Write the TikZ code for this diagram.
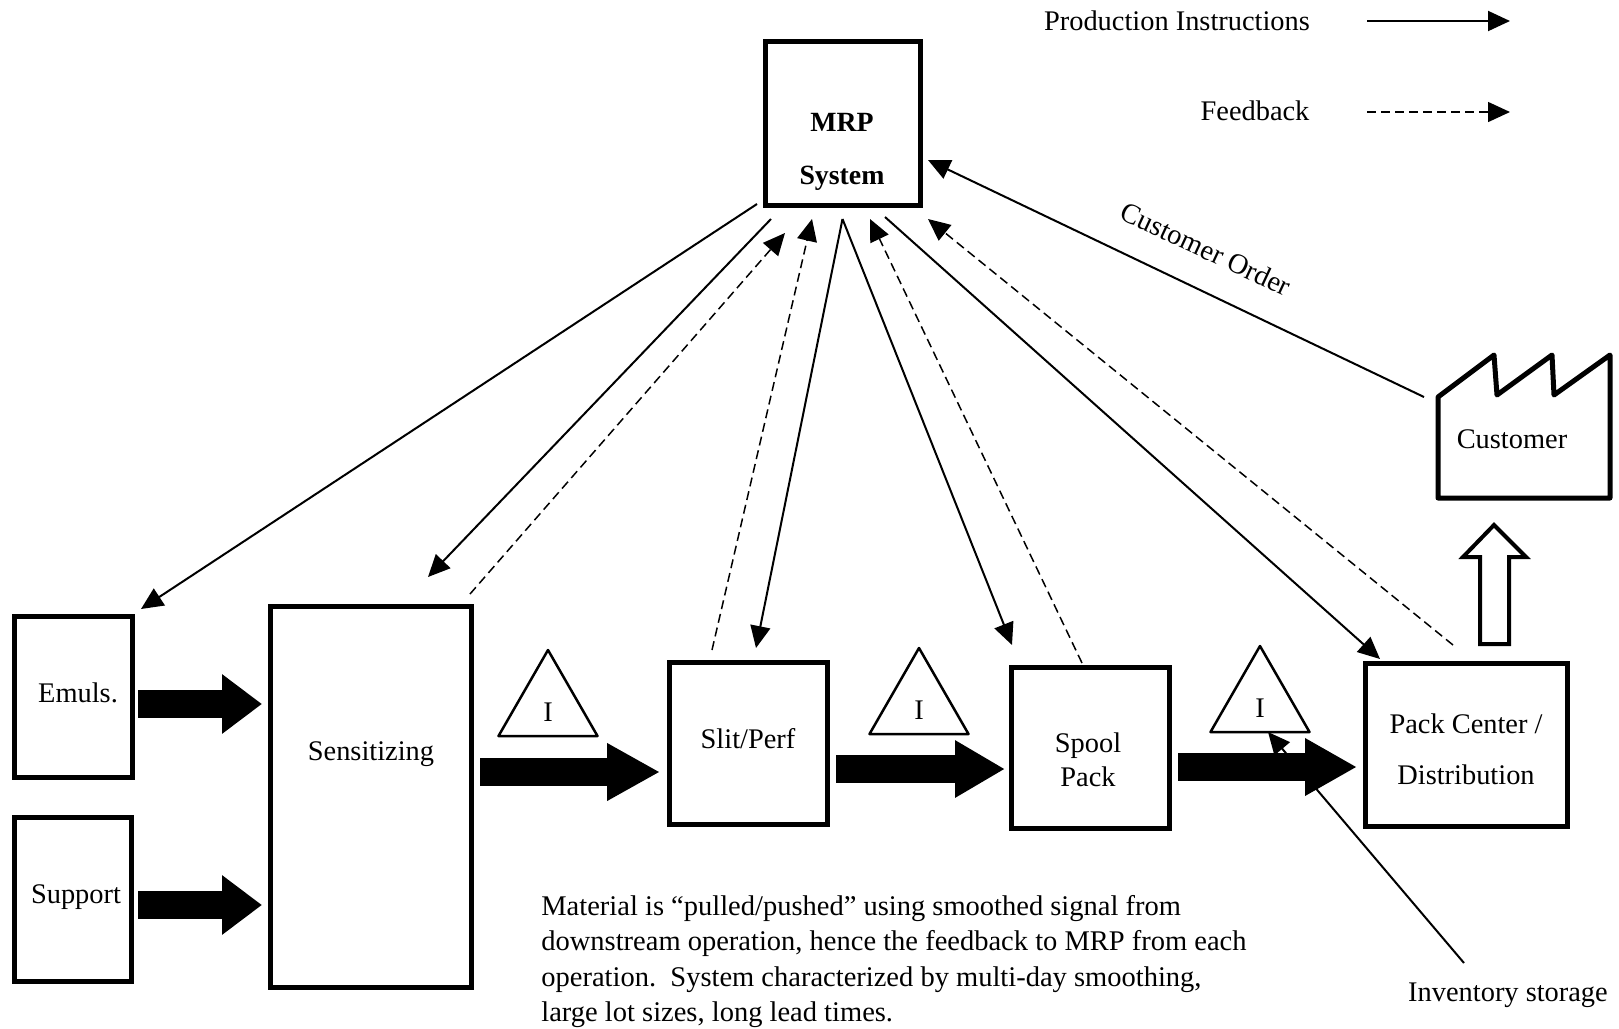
\documentclass[tikz,border=0pt]{standalone}
\usepackage{fontspec}
\setmainfont{Liberation Serif}
\usetikzlibrary{arrows.meta}
\tikzset{processbox/.style={draw,rectangle,line width=2.5pt,inner sep=0,outer sep=0},
    plainlabel/.style={font=\fontsize{14.2}{17}\selectfont,inner sep=0,align=center},
    boldlabel/.style={font=\fontsize{13.9}{17}\selectfont\bfseries,inner sep=0,align=center},
    orderarrow/.style={-{Triangle[length=11pt,width=10pt]},line width=1pt},
    feedbackarrow/.style={-{Triangle[length=11pt,width=10pt]},line width=0.75pt,dash pattern=on 4.5pt off 2.5pt},
    pusharrow/.style={-{Triangle[length=#1,width=27pt]},line width=14pt},
    shortpush/.style={-{Triangle[length=20pt,width=28.5pt]},line width=14pt},
    hollowshape/.style={draw,line width=2pt,line join=miter},
    factoryshape/.style={draw,line width=2.5pt,line join=round}
}
\newcommand{\inventorytriangle}[3]
{
% args: (name, x of apex, y of apex)
    \draw [line width=1.25pt,line join=round] (#2,#3) -- ++(-49.5,86) -- ++(99,0) -- cycle;
    \coordinate (#1base) at (#2,#3+86);
    \node (#1) [plainlabel] at (#2,#3+62) {I};
}

\begin{document}
\begin{tikzpicture}[x=0.5pt,y=-0.5pt]

\useasboundingbox (0,0) rectangle (1619,1029);

%% boxes
\node (mrp) at (842.5,123) [processbox,minimum width=77.5pt,minimum height=82pt] {};
\node (emuls) at (73.25,696.5) [processbox,minimum width=58.75pt,minimum height=80.5pt] {};
\node (support) at (72.75,899) [processbox,minimum width=58.25pt,minimum height=82pt] {};
\node (sens) at (370.75,796.5) [processbox,minimum width=100.25pt,minimum height=190.5pt] {};
\node (slit) at (748,743) [processbox,minimum width=79pt,minimum height=81pt] {};
\node (spool) at (1090,747.5) [processbox,minimum width=79pt,minimum height=80.5pt] {};
\node (pack) at (1466,744.5) [processbox,minimum width=101pt,minimum height=81.5pt] {};

\node (mrpText) at (842,151.5) [boldlabel] {MRP\\[9.5pt]System};
\node (emulsText) at (78,693) [plainlabel] {Emuls.};
\node (supportText) at (76,897) [plainlabel] {Support};
\node (sensText) at (371,754) [plainlabel] {Sensitizing};
\node (slitText) at (748,739) [plainlabel] {Slit/Perf};
\node (spoolText) at (1088,760) [plainlabel] {Spool\\Pack};
\node (packText) at (1466,749) [plainlabel] {Pack Center /\\[8.5pt]Distribution};

%% customer
\coordinate (custCorner) at (1438,397);
\draw [factoryshape] (custCorner) -- (1494,355) -- (1497,395) -- (1552,355) -- (1554,395) -- (1610,355) -- (1610,498) -- (1438,498) -- cycle;
\node (custText) at (1512,439) [plainlabel] {Customer};

\draw [hollowshape] (1494,525) -- (1526,557) -- (1509,557) -- (1509,644) -- (1480,644) -- (1480,557) -- (1463,557) -- cycle;

%% inventory
\inventorytriangle{invA}{548}{650}
\inventorytriangle{invB}{919}{648}
\inventorytriangle{invC}{1260}{646}

\node (invText) at (1508,995) [plainlabel] {Inventory storage};
\coordinate (invEnd) at (1464,963);
\draw [orderarrow] (invEnd) -- ([xshift=4pt]invCbase);

%% material flow
\draw [shortpush] ([shift={(6,7.5)}]emuls.east) -- ([shift={(-8.5,-92.5)}]sens.west);
\draw [shortpush] ([shift={(7,6)}]support.east) -- ([shift={(-8.5,108.5)}]sens.west);
\draw [pusharrow=26.5pt] ([shift={(9,-24.5)}]sens.east) -- ([shift={(-9,29)}]slit.west);
\draw [pusharrow=25pt] ([shift={(9,26)}]slit.east) -- ([shift={(-6,21.5)}]spool.west);
\draw [pusharrow=26pt] ([shift={(9,19.5)}]spool.east) -- ([shift={(-8,22.5)}]pack.west);

%% production instructions
\draw [orderarrow] ([shift={(-8,-1)}]mrp.south west) -- ([shift={(9,-7)}]emuls.north east);
\draw [orderarrow] ([shift={(6,14)}]mrp.south west) -- ([shift={(57.25,-29)}]sens.north);
\draw [orderarrow] ([yshift=-7pt]mrp.south) -- ([shift={(8,-14)}]slit.north);
\draw [orderarrow] ([yshift=-7pt]mrp.south) -- ([shift={(-78,-22)}]spool.north);
\draw [orderarrow] ([shift={(42.5,12)}]mrp.south) -- ([shift={(15,-4)}]pack.north west);

%% feedback
\draw [feedbackarrow] ([shift={(-1,-12)}]sens.north east) -- ([shift={(20,28)}]mrp.south west);
\draw [feedbackarrow] ([shift={(-36,-12)}]slit.north) -- ([shift={(-30.5,14)}]mrp.south);
\draw [feedbackarrow] ([shift={(-8,-4)}]spool.north) -- ([shift={(27.5,14)}]mrp.south);
\draw [feedbackarrow] ([shift={(-13,-18)}]pack.north) -- ([shift={(8,14)}]mrp.south east);

%% customer order
\draw [orderarrow] ([xshift=-7pt]custCorner) -- ([shift={(8,37)}]mrp.east);
\node (orderText) at (1206,249) [plainlabel,rotate=-25] {Customer Order};

%% legend
\node (legendProd) at (1177,21) [plainlabel] {Production Instructions};
\node (legendFeed) at (1255,111) [plainlabel] {Feedback};
\coordinate (prodStart) at (1367,21);
\coordinate (prodEnd) at (1510,21);
\coordinate (feedStart) at (1367,112);
\coordinate (feedEnd) at (1510,112);
\draw [orderarrow] (prodStart) -- (prodEnd);
\draw [feedbackarrow] (feedStart) -- (feedEnd);

%% note
\node (note) at (541,895) [plainlabel,anchor=north west,align=left,font=\fontsize{14.25}{17.75}\selectfont] {Material is “pulled/pushed” using smoothed signal from\\downstream operation, hence the feedback to MRP from each\\operation.\ \ System characterized by multi-day smoothing,\\large lot sizes, long lead times.};

\end{tikzpicture}
\end{document}
